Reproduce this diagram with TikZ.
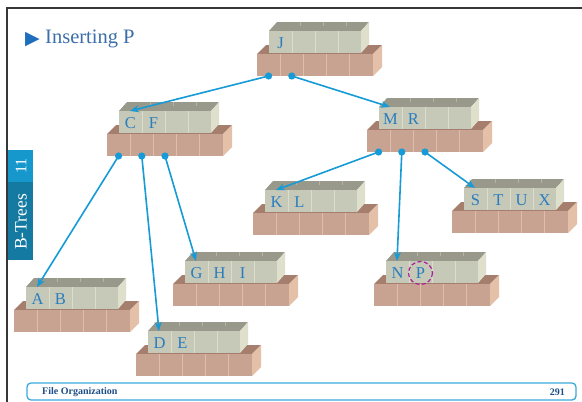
\documentclass[tikz,border=0pt]{standalone}
\usepackage{fontspec}
\setmainfont{Liberation Serif}
\newfontfamily\symfont{DejaVu Sans}
\usetikzlibrary{arrows.meta}
\definecolor{graytop}{RGB}{152,153,138}
\definecolor{grayfront}{RGB}{198,200,184}
\definecolor{grayside}{RGB}{222,224,204}
\definecolor{graydiv}{RGB}{218,220,204}
\definecolor{tantop}{RGB}{165,126,110}
\definecolor{tanfront}{RGB}{201,163,145}
\definecolor{tanside}{RGB}{228,192,168}
\definecolor{tandiv}{RGB}{220,190,174}
\definecolor{keyblue}{RGB}{40,125,190}
\definecolor{ptrblue}{RGB}{22,155,215}
\definecolor{titleblue}{RGB}{60,110,170}
\definecolor{bulletblue}{RGB}{30,110,190}
\definecolor{tablight}{RGB}{22,152,205}
\definecolor{tabdark}{RGB}{20,122,162}
\definecolor{footblue}{RGB}{58,170,220}
\definecolor{foottext}{RGB}{30,78,135}
\definecolor{framegray}{RGB}{55,55,55}
\definecolor{circpurple}{RGB}{170,30,150}
\tikzset{
  keytext/.style={text=keyblue, font=\fontsize{16.5}{16.5}\selectfont, inner sep=0pt,
    text height=10.9pt, text depth=0pt, anchor=center},
  ptrline/.style={draw=ptrblue, line width=1.6pt, -{Stealth[length=9pt,width=7pt]}},
  ptrdot/.style={fill=ptrblue},
}
% #1 name, #2 x, #3 y (top-left of pointer base front), #4 keys
\newcommand\BTreeNode[4]{%
  \begin{scope}[shift={(#2,#3)}]
    \fill[tantop] (0,0) -- (9,-9) -- (125,-9) -- (116,0) -- cycle;
    \fill[tanside] (116,0) -- (125,-9) -- (125,13) -- (116,22) -- cycle;
    \fill[tanfront] (0,0) rectangle (116,22);
    \foreach \d in {23.2,46.4,69.6,92.8} \draw[tandiv, line width=0.8pt] (\d,0) -- (\d,22);
    \fill[graytop] (12,-23) -- (20,-32) -- (112,-32) -- (104,-23) -- cycle;
    \fill[grayside] (104,-23) -- (112,-32) -- (112,-10) -- (104,-1) -- cycle;
    \fill[grayfront] (12,-23) rectangle (104,-1);
    \foreach \d in {35,58,81} \draw[graydiv, line width=0.8pt] (\d,-23) -- (\d,-1);
    \foreach \d in {43,66,89} \draw[graydiv!40!graytop, line width=0.5pt] (\d,-32) -- (\d,-28);
    \coordinate (#1-tip) at (23,-23);
    \coordinate (#1-p1) at (11.6,22);
    \coordinate (#1-p2) at (34.8,22);
    \coordinate (#1-p3) at (58,22);
    \foreach \k [count=\i from 0] in {#4} \node[keytext] (#1-k\i) at ({23.5+23*\i},-11) {\k};
  \end{scope}}
\newcommand\BPtr[2]{\fill[ptrdot] (#1) circle (3.6); \draw[ptrline] (#1) -- (#2);}
\begin{document}
\begin{tikzpicture}[x=1pt,y=-1pt]
  \useasboundingbox (0,0) rectangle (582,402);
  \fill[white] (0,0) rectangle (582,402);
  % frame
  \draw[framegray, line width=2pt] (7,402) -- (7,8) -- (582,8);
  % title
  \node[anchor=base west, inner sep=0pt, text=bulletblue, font=\symfont\fontsize{19}{19}\selectfont] (bullet) at (25,44) {▶};
  \node[anchor=base west, inner sep=0pt, text=titleblue, font=\fontsize{20.5}{20.5}\selectfont] (title) at (45,43) {Inserting P};
  % side tab
  \fill[tablight] (8,150) rectangle (33,182);
  \fill[tabdark] (8,182) rectangle (33,260);
  \node[rotate=90, text=white, inner sep=0pt, font=\fontsize{16}{16}\selectfont] (tabnum) at (21,166) {11};
  \node[rotate=90, text=white, inner sep=0pt, font=\fontsize{17.5}{17.5}\selectfont] (tabtxt) at (21,222) {B-Trees};
  % footer
  \draw[footblue, line width=1.3pt, rounded corners=4pt] (27,383) rectangle (576,400);
  \node[anchor=west, inner sep=0pt, text=foottext, font=\bfseries\fontsize{10}{10}\selectfont] (foot) at (42,392) {File Organization};
  \node[anchor=east, inner sep=0pt, text=foottext, font=\bfseries\fontsize{10}{10}\selectfont] (page) at (565,392) {291};
  % nodes
  \BTreeNode{J}{257}{54}{J}
  \BTreeNode{CF}{107}{134}{C,F}
  \BTreeNode{MR}{367}{130}{M,R}
  \BTreeNode{KL}{253}{213}{K,L}
  \BTreeNode{STUX}{452}{211}{S,T,U,X}
  \BTreeNode{AB}{14}{310}{A,B}
  \BTreeNode{GHI}{173}{284}{G,H,I}
  \BTreeNode{DE}{136}{354}{D,E}
  \BTreeNode{NP}{374}{284}{N,P}
  % highlight
  \draw[circpurple, line width=1.2pt, dash pattern=on 4pt off 2.5pt] (NP-k1.center) ellipse (12 and 11.5);
  % pointers
  \BPtr{J-p1}{CF-tip}
  \BPtr{J-p2}{MR-tip}
  \BPtr{CF-p1}{AB-tip}
  \BPtr{CF-p2}{DE-tip}
  \BPtr{CF-p3}{GHI-tip}
  \BPtr{MR-p1}{KL-tip}
  \BPtr{MR-p2}{NP-tip}
  \BPtr{MR-p3}{STUX-tip}
\end{tikzpicture}
\end{document}
